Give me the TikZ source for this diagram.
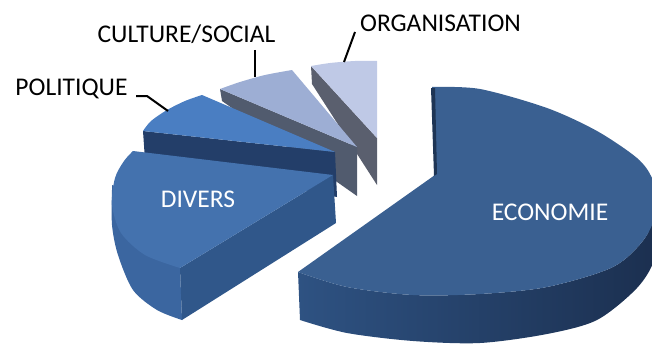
\documentclass[tikz,border=0pt]{standalone}
\usepackage{fontspec}
\setmainfont{Carlito}
\definecolor{ecoTop}{HTML}{3A6091}
\definecolor{ecoSideL}{HTML}{2E5282}
\definecolor{ecoSideR}{HTML}{1B2F4F}
\definecolor{ecoEdge}{HTML}{1E3555}
\definecolor{divTop}{HTML}{4472AE}
\definecolor{divOuter}{HTML}{3B66A0}
\definecolor{divFront}{HTML}{30578A}
\definecolor{polTop}{HTML}{4A7EC2}
\definecolor{polSide}{HTML}{233E69}
\definecolor{culTop}{HTML}{9DAED4}
\definecolor{culSide}{HTML}{515B6E}
\definecolor{orgTop}{HTML}{BFC9E6}
\definecolor{orgSide}{HTML}{5A5F6E}
\tikzset{
  lbl/.style={font=\fontsize{25.5}{30}\selectfont, inner sep=0pt, anchor=base, text=black},
  inlbl/.style={lbl, text=white},
  leader/.style={draw=black, line width=2pt}
}
\begin{document}
\begin{tikzpicture}[x=1pt,y=-1pt]
\useasboundingbox (0,0) rectangle (652,345);
\clip (0,0) rectangle (652,345);
% ORGANISATION
\fill[orgSide] (311,66) -- (377,138) -- (377,185) -- (312,84) -- cycle;
\fill[orgTop] (377,138) -- (311,66) -- plot[smooth] coordinates {(311,66)(330,63)(355,61)(377,61)} -- cycle;
% CULTURE/SOCIAL
\fill[culSide] (220,89) -- (357,147) -- (357,196) -- (222,101) -- cycle;
\fill[culTop] (357,147) -- (220,89) -- plot[smooth] coordinates {(220,89)(240,82)(265,75)(292,70)} -- cycle;
% POLITIQUE
\fill[polSide] (143,131) -- (335,152) -- (337,197) -- (145,160) -- cycle;
\fill[polTop] (335,152) -- (143,131) -- plot[smooth] coordinates {(143,131)(151,121)(167,110)(185,101)(202,95)} -- cycle;
% DIVERS
\fill[divOuter] (112,185) -- plot[smooth] coordinates {(112,190)(112,225)(118,255)(133,290)(157,310)(182,320)} -- (180,268) -- (150,200) -- cycle;
\fill[divFront] (180,268) -- (333,175) -- (336,223) -- (182,320) -- cycle;
\fill[divTop] (333,175) -- (180,268) -- plot[smooth] coordinates {(180,268)(145,255)(121,233)(112,205)(115,178)(124,161)(133,151)} -- cycle;
% ECONOMIE
\shade[left color=ecoSideL, right color=ecoSideR] (298,272) -- (300,320) -- plot[smooth] coordinates {(300,320)(347,333)(413,341)(480,343)(547,334)(597,320)(637,288)(655,258)(660,215)} -- plot[smooth] coordinates {(658,205)(645,238)(613,267)(547,287)(480,294)(413,295)(347,287)(298,272)} -- cycle;
\fill[ecoTop] (435,175) -- (298,272) -- plot[smooth] coordinates {(298,272)(347,287)(413,295)(480,294)(547,287)(613,267)(645,238)(658,205)(652,178)(637,158)(597,131)(547,108)(480,89)(432,87)} -- cycle;
\fill[ecoEdge] (431,88) -- (434,176) -- (437,174) -- (435,88) -- cycle;
% labels
\node[lbl] (org) at (440.5,32) {ORGANISATION};
\node[lbl] (cul) at (186.5,43) {CULTURE/SOCIAL};
\node[lbl] (pol) at (71.5,95) {POLITIQUE};
\node[inlbl] (div) at (198,207) {DIVERS};
\node[inlbl] (eco) at (550,220) {ECONOMIE};
% leaders
\coordinate (orgA) at (355,32);
\coordinate (orgB) at (344,62);
\coordinate (culA) at (255,50);
\coordinate (culB) at (255,77);
\coordinate (polA) at (136,96);
\coordinate (polK) at (147,96);
\coordinate (polB) at (168,111);
\draw[leader] (orgA) -- (orgB);
\draw[leader] (culA) -- (culB);
\draw[leader] (polA) -- (polK) -- (polB);
\end{tikzpicture}
\end{document}
